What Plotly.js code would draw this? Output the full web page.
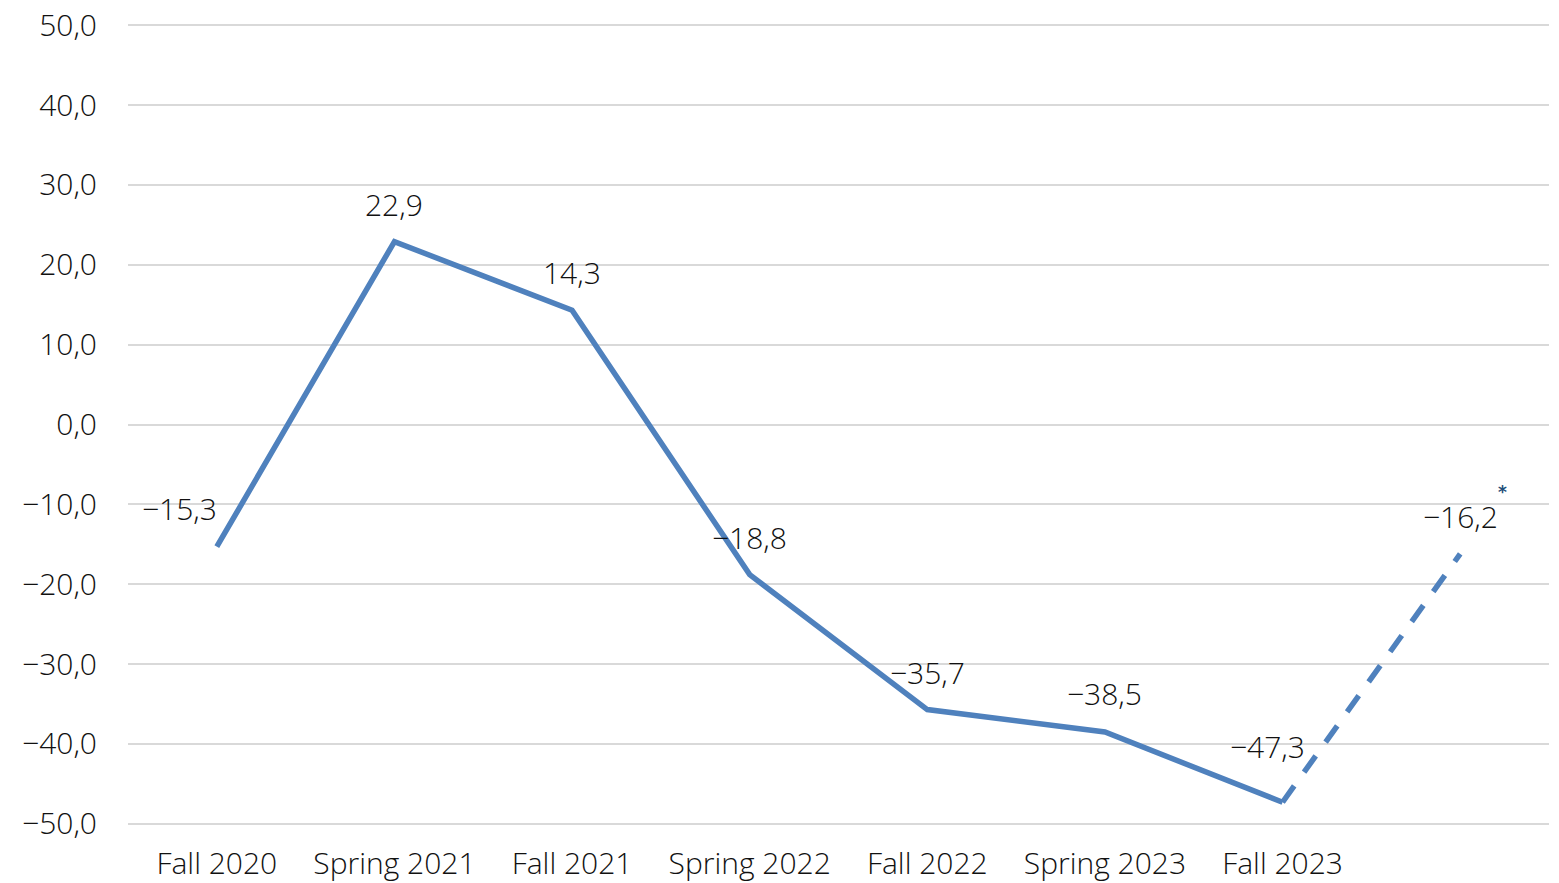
<!DOCTYPE html>
<html>
<head>
<meta charset="utf-8">
<script src="https://cdn.plot.ly/plotly-3.0.1.min.js"></script>
<style>html,body{margin:0;padding:0;background:#fff;}#chart{width:1559px;height:883px;}</style>
</head>
<body>
<div id="chart"></div>
<script>
const categories = ["Fall 2020", "Spring 2021", "Fall 2021", "Spring 2022", "Fall 2022", "Spring 2023", "Fall 2023", ""];
const values = [-15.3, 22.9, 14.3, -18.8, -35.7, -38.5, -47.3, -16.2];
const solidCount = 7;           // first 7 points drawn solid
const forecastNote = "*";
const yTicks = [-50, -40, -30, -20, -10, 0, 10, 20, 30, 40, 50];

const idx = categories.map((_, i) => i);
const labelled = idx.filter(i => categories[i] !== "");
const lineColor = "#4F81BD";
const fontFam = "'Open Sans', Lato, sans-serif";
const txtFont = {family: fontFam, size: 30, color: "#111", weight: 300};

const solid = {
  x: idx.slice(0, solidCount), y: values.slice(0, solidCount),
  type: "scatter", mode: "lines",
  line: {color: lineColor, width: 5.5},
  hoverinfo: "skip", showlegend: false
};
const dashed = {
  x: idx.slice(solidCount - 1), y: values.slice(solidCount - 1),
  type: "scatter", mode: "lines",
  line: {color: lineColor, width: 5.5, dash: "20px,17px"},
  hoverinfo: "skip", showlegend: false
};

const fmt = v => (v < 0 ? "\u2212" : "") + Math.abs(v).toFixed(1).replace(".", ",");
const last = values.length - 1;
const shifts = [[-37, 38], [0, 37], [0, 38], [0, 37], [0, 37], [0, 38], [-15, 56], [0, 37]];
const annotations = values.map((v, i) => ({
  x: idx[i], y: v, xref: "x", yref: "y",
  text: fmt(v), showarrow: false,
  xshift: shifts[i][0], yshift: shifts[i][1],
  font: txtFont
}));
annotations.push({
  x: idx[last], y: values[last], xref: "x", yref: "y",
  text: "<b>" + forecastNote + "</b>", showarrow: false,
  xanchor: "left", xshift: 36, yshift: 62,
  font: {family: "DejaVu Sans, sans-serif", size: 17, color: "#1F4E79"}
});

const layout = {
  width: 1559, height: 883,
  margin: {l: 128, r: 10, t: 24, b: 58},
  paper_bgcolor: "#fff", plot_bgcolor: "#fff",
  separators: ", ",
  font: txtFont,
  xaxis: {
    range: [-0.5, categories.length - 0.5],
    tickmode: "array", tickvals: labelled, ticktext: labelled.map(i => categories[i]),
    showgrid: false, zeroline: false, showline: false,
    ticks: "outside", ticklen: 12, tickcolor: "rgba(0,0,0,0)",
    tickfont: txtFont
  },
  yaxis: {
    range: [-50.15, 50.15],
    tickmode: "array", tickvals: yTicks,
    tickformat: ".1f",
    showgrid: true, gridcolor: "#D9D9D9", gridwidth: 2,
    zeroline: false, showline: false,
    ticks: "outside", ticklen: 24, tickcolor: "rgba(0,0,0,0)",
    tickfont: txtFont
  },
  annotations: annotations
};

Plotly.newPlot("chart", [solid, dashed], layout, {displayModeBar: false, staticPlot: true});
</script>
</body>
</html>
